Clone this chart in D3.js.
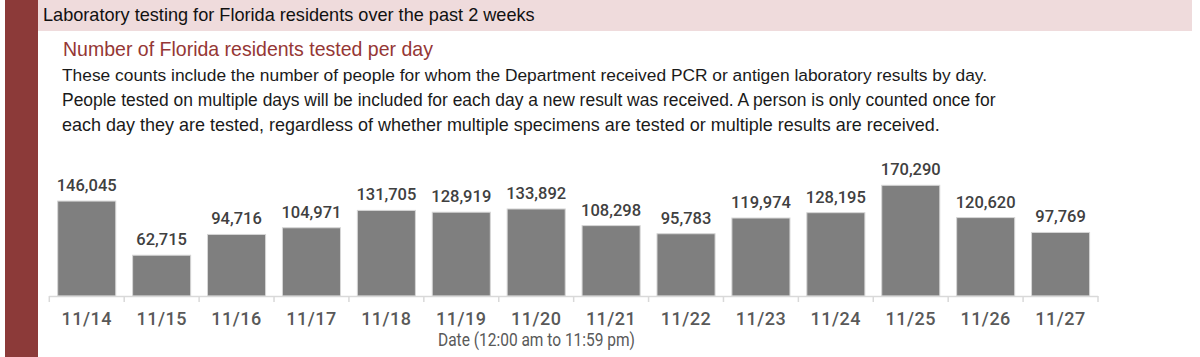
<!DOCTYPE html>
<html>
<head>
<meta charset="utf-8">
<script src="https://cdn.jsdelivr.net/npm/d3@7"></script>
<style>
  html, body { margin: 0; padding: 0; background: #fff; }
  svg { display: block; }
</style>
</head>
<body>
<svg id="chart" width="1200" height="357"></svg>
<script>
const categories = ["11/14","11/15","11/16","11/17","11/18","11/19","11/20","11/21","11/22","11/23","11/24","11/25","11/26","11/27"];
const tested = [146045, 62715, 94716, 104971, 131705, 128919, 133892, 108298, 95783, 119974, 128195, 170290, 120620, 97769];
const headerTitle = "Laboratory testing for Florida residents over the past 2 weeks";
const subTitle = "Number of Florida residents tested per day";
const bodyLines = [
  "These counts include the number of people for whom the Department received PCR or antigen laboratory results by day.",
  "People tested on multiple days will be included for each day a new result was received. A person is only counted once for",
  "each day they are tested, regardless of whether multiple specimens are tested or multiple results are received."
];
const xAxisTitle = "Date (12:00 am to 11:59 pm)";

const svg = d3.select("#chart");
const FONT = "'Liberation Sans', Arial, sans-serif";
const NUMFONT = "Roboto, 'Liberation Sans', Arial, sans-serif";

// fit helper: scale font-size so text width matches target
function fit(sel, target) {
  const w = sel.node().getComputedTextLength();
  const fs = parseFloat(sel.attr("font-size"));
  sel.attr("font-size", (fs * target / w).toFixed(2));
}

// left red band
svg.append("rect").attr("x", 5).attr("y", 0).attr("width", 33).attr("height", 357).attr("fill", "#8c3a39");
// header band
svg.append("rect").attr("x", 38).attr("y", 0).attr("width", 1154).attr("height", 31).attr("fill", "#efdbdc");

const h = svg.append("text").attr("x", 43).attr("y", 21).attr("font-family", FONT)
  .attr("font-size", 16).attr("fill", "#111").text(headerTitle);
fit(h, 492);

const s = svg.append("text").attr("x", 63).attr("y", 56).attr("font-family", FONT)
  .attr("font-size", 18).attr("fill", "#953735").text(subTitle);
fit(s, 370);

const bodyWidths = [925, 934, 878];
bodyLines.forEach((line, i) => {
  const t = svg.append("text").attr("x", 62).attr("y", 81 + i * 25).attr("font-family", FONT)
    .attr("font-size", 16).attr("fill", "#1a1a1a").text(line);
  fit(t, bodyWidths[i]);
});

// chart
const x = d3.scaleBand().domain(categories).range([49.3, 1098]).paddingInner(0.225).paddingOuter(0.112);
const y = d3.scaleLinear().domain([0, 200000]).range([296, 166]);

svg.append("g").selectAll("rect").data(tested).join("rect")
  .attr("x", (d, i) => x(categories[i]))
  .attr("y", d => y(d))
  .attr("width", x.bandwidth())
  .attr("height", d => y(0) - y(d))
  .attr("fill", "#7f7f7f")
  .attr("stroke", "#d6d6d6")
  .attr("stroke-width", 1);

const fmt = d3.format(",");
svg.append("g").selectAll("text").data(tested).join("text")
  .attr("x", (d, i) => x(categories[i]) + x.bandwidth() / 2)
  .attr("y", d => y(d) - 10)
  .attr("text-anchor", "middle")
  .attr("font-family", NUMFONT)
  .attr("font-weight", 500)
  .attr("font-size", 16.5)
  .attr("fill", "#404040")
  .text(d => fmt(d));

// x axis
const axisScale = d3.scaleBand().domain(categories).range([49.3, 1098]);
const axisG = svg.append("g").attr("transform", `translate(0,${y(0)})`);
axisG.append("line").attr("x1", 49.3).attr("x2", 1098).attr("y1", 0.5).attr("y2", 0.5)
  .attr("stroke", "#d9d9d9").attr("stroke-width", 1.5);
const bounds = categories.map(c => axisScale(c)).concat([axisScale.range()[1]]);
axisG.selectAll("line.tick").data(bounds).join("line").attr("class", "tick")
  .attr("x1", d => d).attr("x2", d => d).attr("y1", 0).attr("y2", 6)
  .attr("stroke", "#d9d9d9").attr("stroke-width", 1.5);
axisG.selectAll("text").data(categories).join("text")
  .attr("x", d => axisScale(d) + axisScale.bandwidth() / 2)
  .attr("y", 29)
  .attr("text-anchor", "middle")
  .attr("font-family", NUMFONT)
  .attr("font-weight", 500)
  .attr("font-size", 18)
  .attr("letter-spacing", 0.5)
  .attr("fill", "#595959")
  .text(d => d);

svg.append("text").attr("x", 438).attr("y", 346).attr("font-family", NUMFONT)
  .attr("font-size", 17.5).attr("fill", "#595959")
  .attr("textLength", 197).attr("lengthAdjust", "spacingAndGlyphs")
  .text(xAxisTitle);
</script>
</body>
</html>
